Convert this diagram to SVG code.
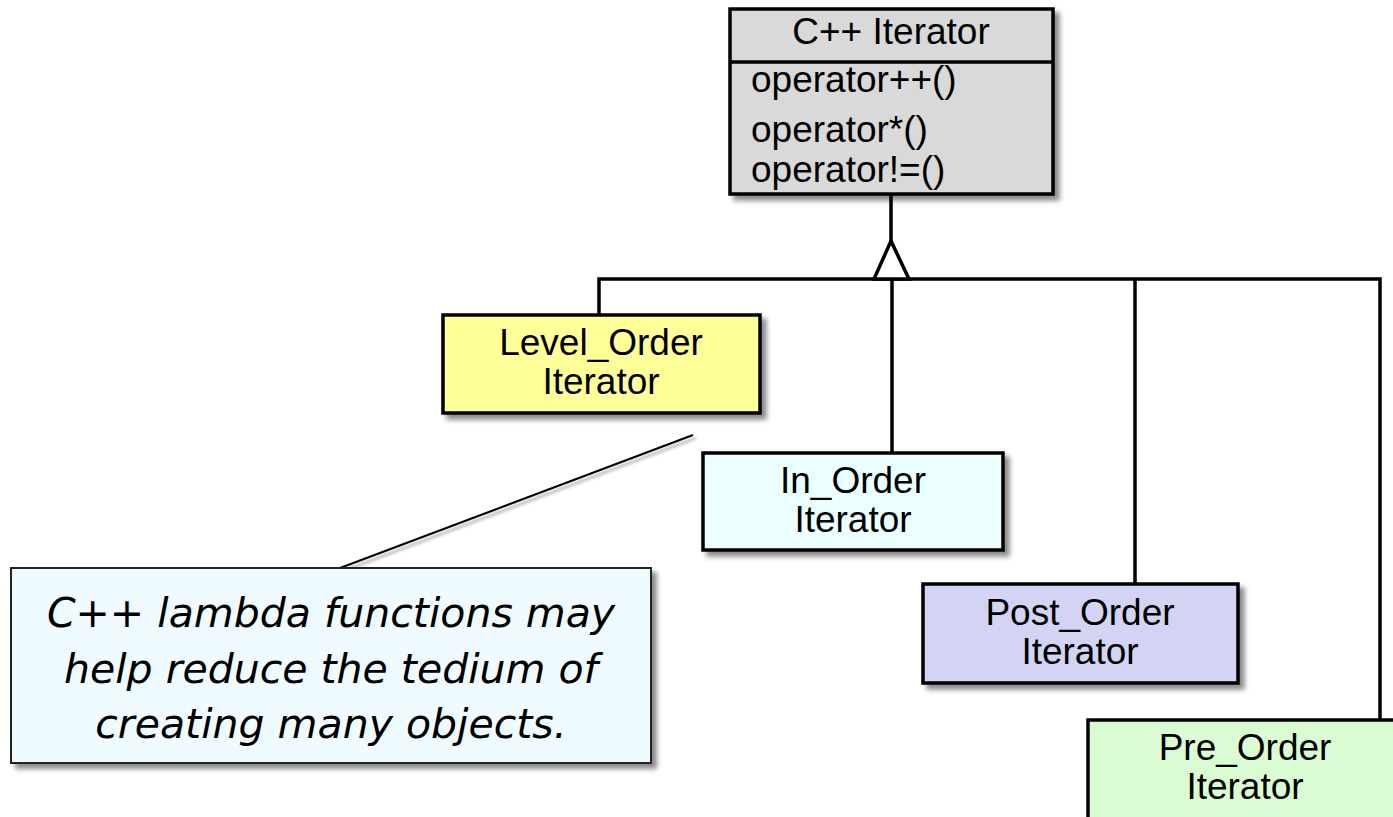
<svg xmlns="http://www.w3.org/2000/svg" width="1393" height="817" viewBox="0 0 1393 817">
  <defs>
    <filter id="shadow" x="-10%" y="-10%" width="130%" height="140%">
      <feDropShadow dx="5" dy="5" stdDeviation="2.5" flood-color="#000" flood-opacity="0.45"/>
    </filter>
    <filter id="lineShadow" x="-10%" y="-10%" width="130%" height="140%">
      <feDropShadow dx="3" dy="3" stdDeviation="1.5" flood-color="#000" flood-opacity="0.35"/>
    </filter>
    <style>
      .box { stroke: #000; stroke-width: 3.5; filter: url(#shadow); }
      .lbl { font-family: "Liberation Sans", Arial, sans-serif; font-size: 37px; fill: #000; }
      .mid { text-anchor: middle; }
      .wire { stroke: #000; stroke-width: 3.5; fill: none; }
      .note { font-family: "DejaVu Sans", Verdana, sans-serif; font-style: italic; font-size: 41px; fill: #000; text-anchor: middle; }
    </style>
  </defs>
  <rect width="1393" height="817" fill="#fff"/>

  <!-- generalization connectors -->
  <g id="connectors">
    <line class="wire" x1="891" y1="194" x2="891" y2="241"/>
    <polyline class="wire" points="599,315 599,279 1380,279 1380,720"/>
    <line class="wire" x1="892" y1="279" x2="892" y2="453"/>
    <line class="wire" x1="1135" y1="279" x2="1135" y2="584"/>
    <polygon points="891,241 874,279 909,279" fill="#fff" stroke="#000" stroke-width="3.5" stroke-linejoin="miter"/>
    <line x1="693" y1="435" x2="340" y2="568" stroke="#000" stroke-width="2" filter="url(#lineShadow)"/>
  </g>

  <g id="cpp-iterator">
    <rect class="box" x="730" y="9" width="323" height="185" fill="#d9d9d9"/>
    <line x1="730" y1="62" x2="1053" y2="62" stroke="#000" stroke-width="3.5"/>
    <text class="lbl mid" x="891" y="44">C++ Iterator</text>
    <text class="lbl" x="751" y="92">operator++()</text>
    <text class="lbl" x="751" y="142">operator*()</text>
    <text class="lbl" x="751" y="182">operator!=()</text>
  </g>

  <g id="level-order">
    <rect class="box" x="443" y="315" width="317" height="98" fill="#ffff99"/>
    <text class="lbl mid" x="601" y="355">Level_Order</text>
    <text class="lbl mid" x="601" y="394">Iterator</text>
  </g>

  <g id="in-order">
    <rect class="box" x="703" y="453" width="300" height="97" fill="#ebffff"/>
    <text class="lbl mid" x="853" y="493">In_Order</text>
    <text class="lbl mid" x="853" y="532">Iterator</text>
  </g>

  <g id="post-order">
    <rect class="box" x="923" y="584" width="315" height="99" fill="#d3d3f3"/>
    <text class="lbl mid" x="1080" y="625">Post_Order</text>
    <text class="lbl mid" x="1080" y="664">Iterator</text>
  </g>

  <g id="pre-order">
    <rect class="box" x="1088" y="720" width="314" height="110" fill="#d9fcd2"/>
    <text class="lbl mid" x="1245" y="760">Pre_Order</text>
    <text class="lbl mid" x="1245" y="799">Iterator</text>
  </g>

  <g id="note">
    <rect x="11" y="568" width="640" height="195" fill="#f0fbff" stroke="#222" stroke-width="2" filter="url(#shadow)"/>
    <text class="note" x="331" y="627">C++ lambda functions may</text>
    <text class="note" x="331" y="683">help reduce the tedium of</text>
    <text class="note" x="331" y="738">creating many objects.</text>
  </g>
</svg>
